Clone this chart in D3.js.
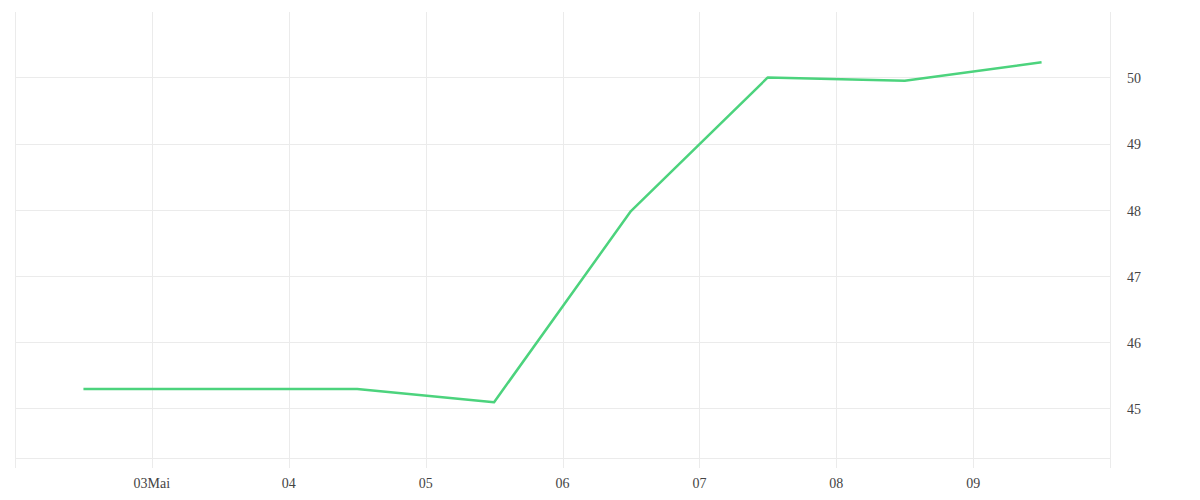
<!DOCTYPE html>
<html><head><meta charset="utf-8">
<script src="https://cdn.jsdelivr.net/npm/d3@7"></script>
<style>body{margin:0;background:#fff}svg{display:block}</style>
</head><body><svg id="c" width="1200" height="500"></svg>
<script>
const dates = ["2023-05-02T12:00","2023-05-03T12:00","2023-05-04T12:00","2023-05-05T12:00","2023-05-06T12:00","2023-05-07T12:00","2023-05-08T12:00","2023-05-09T12:00"];
const values = [45.29, 45.29, 45.29, 45.09, 47.98, 50.0, 49.95, 50.23];
const xTickDates = ["2023-05-03","2023-05-04","2023-05-05","2023-05-06","2023-05-07","2023-05-08","2023-05-09"];
const xTickLabels = ["03Mai","04","05","06","07","08","09"];
const yTicks = [45, 46, 47, 48, 49, 50];

(function(){
const parse = d3.timeParse("%Y-%m-%dT%H:%M");
const parseDay = d3.timeParse("%Y-%m-%d");
const svg = d3.select("#c");
const pL = 15, pR = 1110, pT = 12, pB = 468, baseY = 458;
const x = d3.scaleTime().domain([parseDay("2023-05-02"), parseDay("2023-05-10")]).range([pL, pR]);
const y = d3.scaleLinear().domain([45 - (pB - 408.3) / 66, 50 + (77.3 - pT) / 66]).range([pB, pT]);
const font = "'Liberation Serif', serif";
const grid = "#ebebeb";

const xTicks = [parseDay("2023-05-02")].concat(xTickDates.map(parseDay), [parseDay("2023-05-10")]);
svg.append("g").selectAll("line").data(xTicks).join("line")
  .attr("x1", d => Math.round(x(d)) + 0.5).attr("x2", d => Math.round(x(d)) + 0.5)
  .attr("y1", pT).attr("y2", pB).attr("stroke", grid).attr("stroke-width", 1);
svg.append("g").selectAll("line").data(yTicks).join("line")
  .attr("x1", pL).attr("x2", pR)
  .attr("y1", d => Math.round(y(d)) + 0.5).attr("y2", d => Math.round(y(d)) + 0.5)
  .attr("stroke", grid).attr("stroke-width", 1);
svg.append("line").attr("x1", pL).attr("x2", pR).attr("y1", baseY + 0.5).attr("y2", baseY + 0.5)
  .attr("stroke", grid).attr("stroke-width", 1);

svg.append("g").selectAll("text").data(yTicks).join("text")
  .attr("x", 1127).attr("y", d => y(d) + 1).attr("dy", "0.35em")
  .attr("font-family", font).attr("font-size", 14).attr("fill", "#444")
  .text(d => d);
svg.append("g").selectAll("text").data(xTickDates).join("text")
  .attr("x", d => x(parseDay(d))).attr("y", 488).attr("text-anchor", "middle")
  .attr("font-family", font).attr("font-size", 14).attr("fill", "#444")
  .text((d, i) => xTickLabels[i]);

const data = dates.map((d, i) => ({t: parse(d), v: values[i]}));
svg.append("path").datum(data)
  .attr("fill", "none").attr("stroke", "#4cd37d").attr("stroke-width", 2.5)
  .attr("stroke-linejoin", "round")
  .attr("d", d3.line().x(d => x(d.t)).y(d => y(d.v)));
})();
</script></body></html>
